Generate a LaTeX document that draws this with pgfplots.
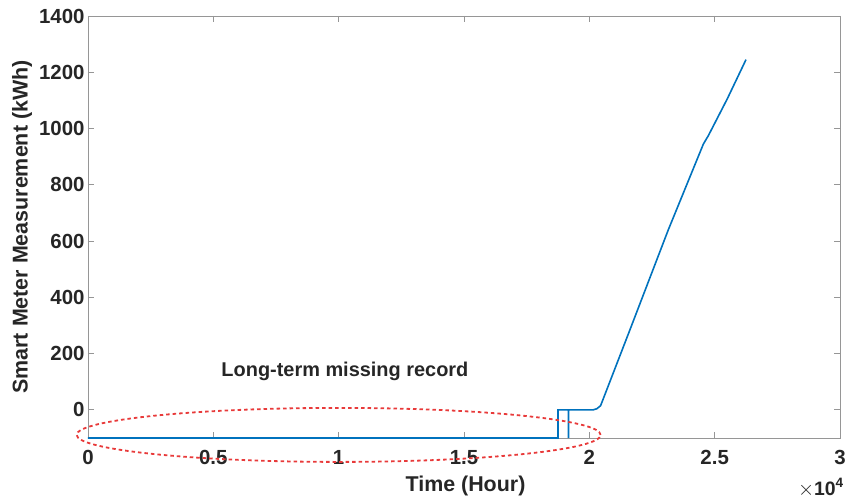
\documentclass[border=0pt]{standalone}
\usepackage{pgfplots}
\pgfplotsset{compat=1.18}
\usepackage{fontspec}
\setmainfont{Liberation Sans}
\definecolor{mblue}{rgb}{0,0.447,0.741}
\definecolor{ellred}{RGB}{232,58,58}
\definecolor{axgray}{RGB}{150,150,150}
\begin{document}
\begin{tikzpicture}
\begin{axis}[name=ax,
  scale only axis, width=752bp, height=422bp,
  xmin=0, xmax=30000, ymin=-100, ymax=1400,
  xtick={0,5000,10000,15000,20000,25000,30000},
  xticklabels={0,0.5,1,1.5,2,2.5,3},
  ytick={0,200,400,600,800,1000,1200,1400},
  scaled ticks=false,
  /pgf/number format/assume math mode=true,
  yticklabel style={/pgf/number format/1000 sep={}},
  xticklabel style={yshift=-9bp},
  tick label style={font=\fontsize{20.5}{23}\selectfont\bfseries, text=black!85},
  label style={font=\fontsize{21.5}{24}\selectfont\bfseries, text=black!85},
  xlabel={Time (Hour)}, ylabel={Smart Meter Measurement (kWh)},
  xlabel style={at={(axis description cs:0.502,-0.1137)}, anchor=center},
  ylabel style={at={(axis description cs:-0.0878,0.5)}, anchor=center},
  axis line style={axgray, line width=0.8bp},
  tick style={axgray, line width=0.8bp}, tick align=inside,
  major tick length=6bp,
  clip=false,
]
\addplot[mblue, line width=1.6bp] coordinates {
  (0,-100) (18750,-100) (18750,0) (19170,0) (19170,-100) (19170,0)
  (20150,0) (20300,4) (20450,15) (21600,280) (23150,640)
  (24550,945) (24750,975) (25500,1105) (26250,1245)
};
\draw[ellred, line width=1.8bp, dash pattern=on 3.5bp off 3bp]
  (axis cs:10000,-89) ellipse [x radius=262bp, y radius=27bp];
\node[font=\fontsize{20}{22}\selectfont\bfseries, text=black!85]
  at (axis cs:10250,135) {Long-term missing record};
\node[font=\fontsize{19.5}{22}\selectfont\bfseries, text=black!85, anchor=north east, inner sep=1bp]
  at ([yshift=-39bp, xshift=5bp]rel axis cs:1,0) {$\times$10\textsuperscript{4}};
\end{axis}
\pgfresetboundingbox
\path ([shift={(-88bp,-62bp)}]ax.south west) rectangle ([shift={(6bp,16bp)}]ax.north east);
\end{tikzpicture}
\end{document}
